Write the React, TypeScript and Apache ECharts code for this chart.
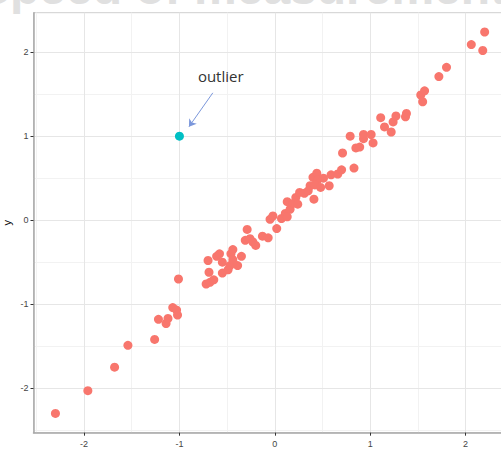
import React, { useEffect, useRef } from "react";
import * as echarts from "echarts";

const xVals = [
  -2.30, -1.96, -1.68, -1.54, -1.26, -1.22, -1.14, -1.12, -1.07, -1.03, -1.02, -1.01,
  -0.72, -0.68, -0.64, -0.69, -0.70, -0.61, -0.58, -0.55, -0.55, -0.49, -0.47, -0.46,
  -0.44, -0.44, -0.39, -0.35, -0.31, -0.29, -0.26, -0.23, -0.20, -0.13, -0.07,
  -0.05, -0.02, 0.02, 0.07, 0.11, 0.13, 0.16, 0.13, 0.19, 0.22, 0.26, 0.31, 0.24,
  0.35, 0.41, 0.37, 0.40, 0.44, 0.45, 0.42, 0.48, 0.51, 0.57, 0.59, 0.66, 0.70,
  0.83, 0.71, 0.79, 0.85, 0.89, 0.93, 0.93, 1.01, 1.03, 1.11, 1.15, 1.22, 1.24,
  1.27, 1.37, 1.38, 1.53, 1.57, 1.55, 1.72, 1.80, 2.06, 2.18, 2.20,
];
const yVals = [
  -2.30, -2.03, -1.75, -1.49, -1.42, -1.18, -1.23, -1.17, -1.04, -1.07, -1.13, -0.70,
  -0.76, -0.74, -0.71, -0.62, -0.48, -0.43, -0.40, -0.50, -0.63, -0.59, -0.54, -0.40,
  -0.35, -0.47, -0.54, -0.43, -0.24, -0.11, -0.22, -0.26, -0.30, -0.19, -0.21,
  0.01, 0.05, -0.10, 0.02, 0.08, 0.04, 0.13, 0.22, 0.20, 0.27, 0.33, 0.32, 0.19,
  0.35, 0.25, 0.41, 0.51, 0.56, 0.48, 0.42, 0.39, 0.50, 0.41, 0.54, 0.55, 0.60,
  0.62, 0.80, 1.00, 0.86, 0.87, 0.97, 1.02, 1.02, 0.92, 1.22, 1.11, 1.05, 1.17,
  1.24, 1.23, 1.27, 1.49, 1.54, 1.41, 1.71, 1.82, 2.09, 2.02, 2.24,
];
const outlierX = [-1];
const outlierY = [1];
const xTicks = [-2, -1, 0, 1, 2];
const yTicks = [-2, -1, 0, 1, 2];
const xMinor = [-2.5, -1.5, -0.5, 0.5, 1.5];
const yMinor = [-2.5, -1.5, -0.5, 0.5, 1.5];
const annotationText = "outlier";
const watermarkText = "Speed of measurement in";

export default function App() {
  const ref = useRef<HTMLDivElement>(null);
  useEffect(() => {
    if (!ref.current) return;
    const chart = echarts.init(ref.current, null, { renderer: "svg" });
    const mainData = xVals.map((x, i) => [x, yVals[i]]);
    const outData = outlierX.map((x, i) => [x, outlierY[i]]);
    const majorStyle = { color: "#e6e6e6", width: 1, type: "solid" };
    const minorStyle = { color: "#f2f2f2", width: 1, type: "solid" };
    const gridLines = [
      ...xMinor.map((v) => ({ xAxis: v, lineStyle: minorStyle })),
      ...yMinor.map((v) => ({ yAxis: v, lineStyle: minorStyle })),
      ...xTicks.map((v) => ({ xAxis: v, lineStyle: majorStyle })),
      ...yTicks.map((v) => ({ yAxis: v, lineStyle: majorStyle })),
    ];
    const fontFam = "'Liberation Sans', Arial, sans-serif";
    chart.setOption({
      animation: false,
      backgroundColor: "#ffffff",
      graphic: [
        {
          type: "text",
          x: -22,
          y: 11,
          z: 0,
          style: {
            text: watermarkText,
            font: "bold 48px 'Liberation Sans', Arial, sans-serif",
            fill: "#e0e0e0",
            verticalAlign: "bottom",
            align: "left",
          },
        },
      ],
      grid: {
        left: 33.5,
        right: -5.6,
        top: 12.7,
        bottom: 26.3,
        outerBoundsMode: "none",
        containLabel: false,
        show: true,
        borderColor: "#cfcfcf",
        borderWidth: 1,
        backgroundColor: "transparent",
      },
      xAxis: {
        type: "value",
        min: -2.53,
        max: 2.43,
        name: "x",
        nameLocation: "middle",
        nameGap: 23,
        nameMoveOverlap: false,
        nameTextStyle: { fontSize: 11, color: "#000", fontFamily: fontFam },
        splitLine: { show: false },
        axisLine: { show: true, onZero: false, lineStyle: { color: "#a8a8a8", width: 1.5 } },
        axisTick: { show: true, customValues: xTicks, length: 3, lineStyle: { color: "#333", width: 1 } },
        axisLabel: { customValues: xTicks, fontSize: 9, color: "#444", margin: 7, fontFamily: fontFam },
      },
      yAxis: {
        type: "value",
        min: -2.53,
        max: 2.47,
        name: "y",
        nameLocation: "middle",
        nameGap: 21,
        nameRotate: 90,
        nameMoveOverlap: false,
        nameTextStyle: { fontSize: 11, color: "#000", fontFamily: fontFam },
        splitLine: { show: false },
        axisLine: { show: true, onZero: false, lineStyle: { color: "#a8a8a8", width: 1.5 } },
        axisTick: { show: true, customValues: yTicks, length: 3, lineStyle: { color: "#333", width: 1 } },
        axisLabel: { customValues: yTicks, fontSize: 9, color: "#444", margin: 5, fontFamily: fontFam },
      },
      series: [
        {
          type: "scatter",
          data: [],
          z: 1,
          silent: true,
          markLine: {
            z: 0,
            silent: true,
            symbol: ["none", "none"],
            label: { show: false },
            data: gridLines,
          },
        },
        {
          type: "scatter",
          data: mainData,
          z: 3,
          symbolSize: 9,
          itemStyle: { color: "#F8766D", opacity: 1 },
        },
        {
          type: "scatter",
          data: outData,
          z: 4,
          symbolSize: 9,
          itemStyle: { color: "#00BFC4", opacity: 1 },
          markLine: {
            z: 5,
            silent: true,
            symbol: ["none", "arrow"],
            symbolSize: 7,
            label: { show: false },
            lineStyle: { color: "#7b97db", width: 1, type: "solid" },
            data: [[{ coord: [-0.65, 1.516] }, { coord: [-0.9, 1.113] }]],
          },
          markPoint: {
            z: 5,
            silent: true,
            symbol: "circle",
            symbolSize: 0,
            label: {
              show: true,
              position: "inside",
              formatter: annotationText,
              fontSize: 15,
              color: "#333333",
              fontFamily: "'Open Sans', sans-serif",
            },
            data: [{ coord: [-0.567, 1.718] }],
          },
        },
      ],
    });
    return () => chart.dispose();
  }, []);
  return (
    <div
      ref={ref}
      style={{ position: "absolute", left: 0, top: 0, width: 501, height: 459 }}
    />
  );
}
